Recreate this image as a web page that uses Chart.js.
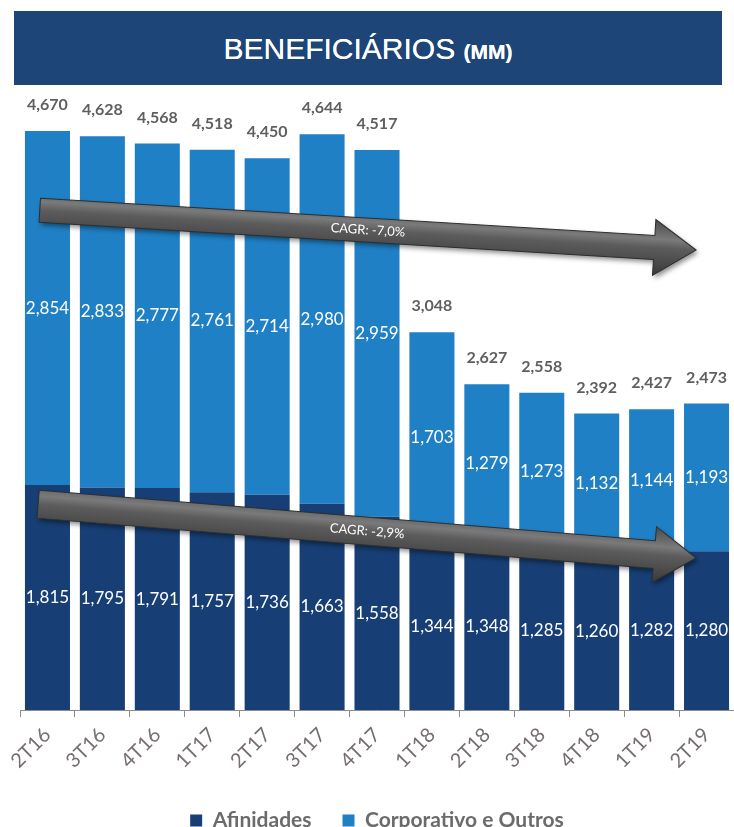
<!DOCTYPE html>
<html>
<head>
<meta charset="utf-8">
<script src="https://cdn.jsdelivr.net/npm/chart.js@4"></script>
<style>
  body { margin: 0; background: #fff; width: 734px; height: 827px; position: relative; overflow: hidden; }
  #titulo {
    position: absolute; left: 14px; top: 11px; width: 708px; height: 74px; z-index: 2;
    background: #1d4577; color: #fff; text-align: center; line-height: 76px;
    font-family: 'Liberation Sans', Arial, sans-serif; font-size: 30px;
    text-shadow: 0 0 0.6px #fff;
  }
  #titulo small { font-size: 21px; font-weight: bold; }
  #caixa { position: absolute; left: 0; top: 0; width: 734px; height: 841px; }
</style>
</head>
<body>
<div id="titulo">BENEFICIÁRIOS <small>(MM)</small></div>
<div id="caixa"><canvas id="grafico"></canvas></div>
<script>
const trimestres = ['2T16', '3T16', '4T16', '1T17', '2T17', '3T17', '4T17', '1T18', '2T18', '3T18', '4T18', '1T19', '2T19'];
const afinidades = [1815, 1795, 1791, 1757, 1736, 1663, 1558, 1344, 1348, 1285, 1260, 1282, 1280];
const corporativo = [2854, 2833, 2777, 2761, 2714, 2980, 2959, 1703, 1279, 1273, 1132, 1144, 1193];
const totais = [4670, 4628, 4568, 4518, 4450, 4644, 4517, 3048, 2627, 2558, 2392, 2427, 2473];

// setas de tendência: [índice inicial, valor inicial, índice final, valor final, texto, meia espessura]
const setas = [
  [-0.14, 4030, 11.81, 3710, 'CAGR: -7,0%', 12],
  [-0.17, 1660, 11.81, 1226, 'CAGR: -2,9%', 14]
];

const fonte = "Lato, 'Open Sans', sans-serif";
const fmt = v => v.toLocaleString('en-US');

function desenharSeta(ctx, x1, y1, x2, y2, texto, h) {
  const ang = Math.atan2(y2 - y1, x2 - x1);
  const len = Math.hypot(x2 - x1, y2 - y1);
  const hh = 28, hl = 42;
  ctx.save();
  ctx.translate(x1, y1);
  ctx.rotate(ang);
  ctx.beginPath();
  ctx.moveTo(0, -h);
  ctx.lineTo(len - hl, -h);
  ctx.lineTo(len - hl, -hh);
  ctx.lineTo(len, 0);
  ctx.lineTo(len - hl, hh);
  ctx.lineTo(len - hl, h);
  ctx.lineTo(0, h);
  ctx.closePath();
  const grad = ctx.createLinearGradient(0, -hh, 0, hh);
  grad.addColorStop(0, '#4a4a4a');
  grad.addColorStop(0.35, '#7a7a7a');
  grad.addColorStop(0.5, '#5c5c5c');
  grad.addColorStop(1, '#3a3a3a');
  ctx.shadowColor = 'rgba(0,0,0,0.45)';
  ctx.shadowBlur = 5;
  ctx.shadowOffsetX = 2;
  ctx.shadowOffsetY = 3;
  ctx.fillStyle = grad;
  ctx.fill();
  ctx.shadowColor = 'transparent';
  ctx.strokeStyle = '#2e2e2e';
  ctx.lineWidth = 1;
  ctx.stroke();
  ctx.fillStyle = '#fff';
  ctx.font = '13px ' + fonte;
  ctx.textAlign = 'center';
  ctx.textBaseline = 'middle';
  ctx.fillText(texto, len / 2, 0);
  ctx.restore();
}

const pluginSetas = {
  id: 'setas',
  afterDatasetsDraw(chart) {
    const x = chart.scales.x, y = chart.scales.y;
    const px = i => x.getPixelForValue(0) + i * (x.getPixelForValue(1) - x.getPixelForValue(0));
    setas.forEach(s => {
      desenharSeta(chart.ctx, px(s[0]), y.getPixelForValue(s[1]), px(s[2]), y.getPixelForValue(s[3]), s[4], s[5]);
    });
  }
};

const pluginRotulos = {
  id: 'rotulos',
  afterDatasetsDraw(chart) {
    const ctx = chart.ctx;
    ctx.save();
    ctx.textAlign = 'center';
    ctx.textBaseline = 'middle';
    ctx.fillStyle = '#fff';
    ctx.font = '17px ' + fonte;
    chart.data.datasets.forEach((ds, d) => {
      chart.getDatasetMeta(d).data.forEach((bar, i) => {
        ctx.fillText(fmt(ds.data[i]), bar.x, (bar.y + bar.base) / 2);
      });
    });
    ctx.fillStyle = '#5f5f5f';
    ctx.font = 'bold 16px ' + fonte;
    ctx.textBaseline = 'bottom';
    chart.getDatasetMeta(1).data.forEach((bar, i) => {
      ctx.fillText(fmt(totais[i]), bar.x, bar.y - 18);
    });
    ctx.restore();
  }
};

new Chart(document.getElementById('grafico'), {
  type: 'bar',
  data: {
    labels: trimestres,
    datasets: [
      { label: 'Afinidades', data: afinidades, backgroundColor: '#173f76' },
      { label: 'Corporativo e Outros', data: corporativo, backgroundColor: '#1f80c6' }
    ]
  },
  options: {
    responsive: true,
    maintainAspectRatio: false,
    animation: false,
    layout: { padding: { top: 90, left: 20, right: 0, bottom: 0 } },
    datasets: { bar: { categoryPercentage: 0.82, barPercentage: 1 } },
    scales: {
      x: {
        stacked: true,
        offset: true,
        grid: { drawOnChartArea: false, drawTicks: true, tickLength: 7, color: '#8c8c8c', offset: true },
        border: { display: true, color: '#8c8c8c', width: 1 },
        ticks: { font: { family: fonte, size: 20 }, color: '#766e6e', minRotation: 45, maxRotation: 45, padding: 6 }
      },
      y: { stacked: true, display: false, min: 0, max: 5000 }
    },
    plugins: {
      legend: {
        position: 'bottom',
        labels: { font: { family: fonte, size: 21, weight: 'bold' }, color: '#6b6b6b', boxWidth: 12, boxHeight: 12, padding: 31 }
      },
      tooltip: { enabled: false }
    }
  },
  plugins: [pluginSetas, pluginRotulos]
});
</script>
</body>
</html>
